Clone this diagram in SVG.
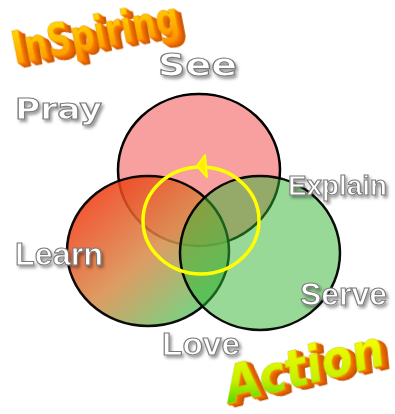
<svg xmlns="http://www.w3.org/2000/svg" width="395" height="414" viewBox="0 0 395 414">
<style>
.ring{stroke:#000;stroke-width:2.5}
.lbl{font-family:"Liberation Sans",Arial,sans-serif;font-weight:bold;fill:#fff;stroke:#7a7a7a;stroke-width:1.1;filter:url(#sh)}
.lbw{font-family:"DejaVu Sans","Liberation Sans",sans-serif;font-weight:bold;fill:#fff;stroke:#7a7a7a;stroke-width:1.1;filter:url(#sh)}
.wa{font-family:"DejaVu Sans Condensed","DejaVu Sans",sans-serif;font-weight:bold;font-stretch:condensed;filter:url(#ex)}
</style>
<defs>
<filter id="sh" x="-20%" y="-30%" width="140%" height="170%">
<feDropShadow dx="2" dy="2.5" stdDeviation="1.6" flood-color="#000" flood-opacity="0.4"/>
</filter>
<filter id="ex" x="-25%" y="-60%" width="150%" height="220%">
<feOffset in="SourceAlpha" dx="1" dy="0.7" result="o1"/>
<feOffset in="SourceAlpha" dx="2" dy="1.4" result="o2"/>
<feOffset in="SourceAlpha" dx="3" dy="2.1" result="o3"/>
<feOffset in="SourceAlpha" dx="4" dy="2.8" result="o4"/>
<feOffset in="SourceAlpha" dx="5" dy="3.5" result="o5"/>
<feOffset in="SourceAlpha" dx="6" dy="4.2" result="o6"/>
<feFlood flood-color="#c25000"/><feComposite in2="o6" operator="in" result="c6"/>
<feFlood flood-color="#d05800"/><feComposite in2="o5" operator="in" result="c5"/>
<feFlood flood-color="#dc6000"/><feComposite in2="o4" operator="in" result="c4"/>
<feFlood flood-color="#e66800"/><feComposite in2="o3" operator="in" result="c3"/>
<feFlood flood-color="#f07000"/><feComposite in2="o2" operator="in" result="c2"/>
<feFlood flood-color="#f87a00"/><feComposite in2="o1" operator="in" result="c1"/>
<feMerge><feMergeNode in="c6"/><feMergeNode in="c5"/><feMergeNode in="c4"/><feMergeNode in="c3"/><feMergeNode in="c2"/><feMergeNode in="c1"/><feMergeNode in="SourceGraphic"/></feMerge>
</filter>
<linearGradient id="gl" gradientUnits="userSpaceOnUse" x1="95" y1="190" x2="205" y2="315">
<stop offset="0" stop-color="#f03810"/>
<stop offset="0.5" stop-color="#d88a48"/>
<stop offset="1" stop-color="#58d070"/>
</linearGradient>
<linearGradient id="gi" x1="0" y1="0" x2="0" y2="1">
<stop offset="0" stop-color="#ffe600"/>
<stop offset="1" stop-color="#ff8a00"/>
</linearGradient>
<linearGradient id="ga" x1="0" y1="1" x2="0.6" y2="0">
<stop offset="0" stop-color="#18cc00"/>
<stop offset="0.45" stop-color="#c8f000"/>
<stop offset="1" stop-color="#ffff00"/>
</linearGradient>
</defs>
<rect width="395" height="414" fill="#fff"/>
<g id="see-circle"><ellipse class="ring" cx="199" cy="170" rx="81" ry="76" fill="#f8a0a0"/></g>
<g id="learn-circle"><ellipse class="ring" cx="148" cy="251" rx="81" ry="75" fill="url(#gl)" fill-opacity="0.85" stroke-opacity="0.95"/></g>
<g id="serve-circle"><ellipse class="ring" cx="260" cy="253" rx="80" ry="77" fill="#32b432" fill-opacity="0.5" stroke-opacity="0.95"/></g>
<g id="connectors">
<ellipse cx="201" cy="220.5" rx="58" ry="53.5" fill="none" stroke="#ffff00" stroke-width="3.5"/>
<polygon points="197,166 205,155 207,177" fill="#ffee00" stroke="#ffff00" stroke-width="2" stroke-linejoin="round"/>
</g>
<g id="see"><text class="lbw" x="158" y="76" font-size="32" textLength="79" lengthAdjust="spacingAndGlyphs">See</text></g>
<g id="pray"><text class="lbw" x="15" y="119" font-size="28" textLength="87" lengthAdjust="spacingAndGlyphs">Pray</text></g>
<g id="explain"><text class="lbl" x="288" y="195" font-size="27.5" textLength="99" lengthAdjust="spacingAndGlyphs">Explain</text></g>
<g id="learn"><text class="lbl" x="15" y="265" font-size="32" textLength="88" lengthAdjust="spacingAndGlyphs">Learn</text></g>
<g id="serve"><text class="lbl" x="300" y="305" font-size="32" textLength="87" lengthAdjust="spacingAndGlyphs">Serve</text></g>
<g id="love"><text class="lbl" x="162" y="355" font-size="32" textLength="78" lengthAdjust="spacingAndGlyphs">Love</text></g>
<g id="inspiring" transform="translate(15,64) rotate(-11) scale(1.08,1.3)">
<text class="wa" x="0" y="0" font-size="34" fill="url(#gi)" stroke="#e89000" stroke-width="0.4">InSpiring</text>
</g>
<g id="action" transform="translate(227,404) rotate(-14) skewX(-8) scale(1.15,1.15)">
<text class="wa" x="0" y="0" font-size="44" fill="url(#ga)" stroke="#b8d000" stroke-width="0.4">Action</text>
</g>
</svg>
